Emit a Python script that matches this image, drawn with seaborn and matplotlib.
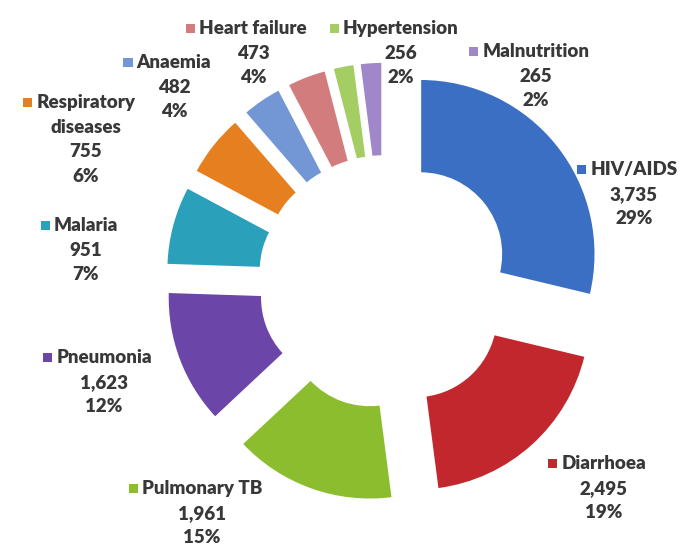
import matplotlib
matplotlib.use("Agg")
import matplotlib.pyplot as plt
import seaborn as sns
from matplotlib.offsetbox import TextArea, DrawingArea, HPacker, VPacker, AnnotationBbox
from matplotlib.patches import Rectangle

# Data: causes of death, clockwise from 12 o'clock
causes = ["HIV/AIDS", "Diarrhoea", "Pulmonary TB", "Pneumonia", "Malaria",
          "Respiratory\ndiseases", "Anaemia", "Heart failure", "Hypertension", "Malnutrition"]
deaths = [3735, 2495, 1961, 1623, 951, 755, 482, 473, 256, 265]
colors = ["#3b6fc3", "#c1272d", "#8bbd2f", "#6b45a8", "#2ba0bb",
          "#e57f1f", "#7297d4", "#d27c7e", "#a4cd63", "#9f87c9"]

# top-centre of each label block, in pixels from top-left
label_xy = [(634, 161), (604, 455), (202, 480), (104, 349), (86, 217),
            (86, 94), (174, 54), (253, 20), (401, 20), (536, 43)]

W, H = 685, 545
sns.set_theme(style="white")
plt.rcParams["font.family"] = ["Lato", "DejaVu Sans"]

fig = plt.figure(figsize=(W / 100, H / 100), dpi=100)
ax = fig.add_axes([0, 0, 1, 1])

# donut with every slice pulled out from the centre
cx, cy = 385, H - 282
radius, ring, shift = 175, 94, 45
ax.pie(deaths, radius=radius, center=(cx, cy), startangle=90, counterclock=False,
       explode=[shift] * len(deaths), colors=colors,
       wedgeprops=dict(width=ring, edgecolor="white", linewidth=1.2))
ax.set_xlim(0, W)
ax.set_ylim(0, H)
ax.set_aspect("equal")
ax.axis("off")

total = sum(deaths)
tp = dict(fontsize=13.5, fontweight="heavy", color="#383838")
for name, val, col, (lx, ly) in zip(causes, deaths, colors, label_xy):
    sq = DrawingArea(6.5, 6.5)
    sq.add_artist(Rectangle((0, 0), 6.5, 6.5, fc=col, ec="none"))
    blank = DrawingArea(6.5, 6.5)
    lines = name.split("\n")
    rows = [HPacker(children=[sq, TextArea(lines[0], textprops=tp), blank],
                    align="center", pad=0, sep=3)]
    rows += [TextArea(t, textprops=tp) for t in lines[1:]]
    rows += [TextArea(f"{val:,}", textprops=tp),
             TextArea(f"{round(100 * val / total)}%", textprops=tp)]
    box = VPacker(children=rows, align="center", pad=0, sep=5.5)
    ab = AnnotationBbox(box, (lx, H - ly), xycoords="data", frameon=False,
                        box_alignment=(0.5, 1), pad=0)
    ax.add_artist(ab)

fig.savefig("out.png", dpi=100)
